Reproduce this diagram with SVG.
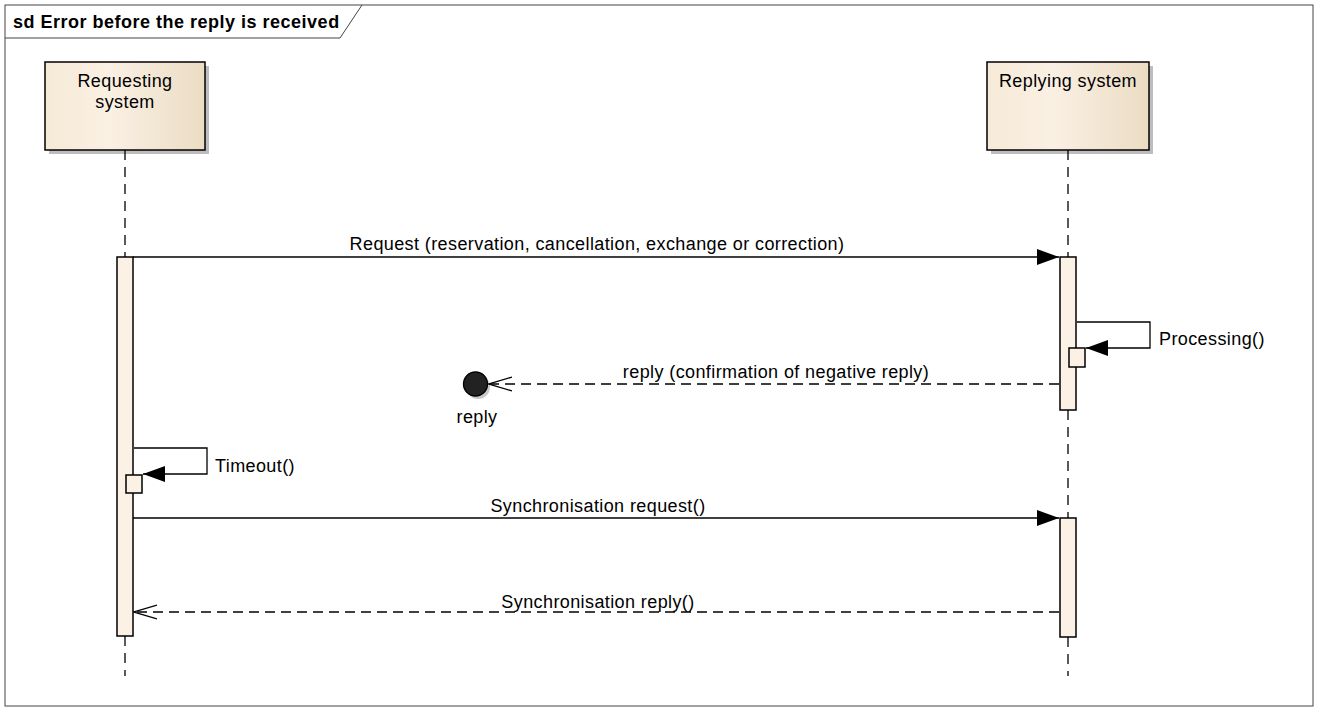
<svg xmlns="http://www.w3.org/2000/svg" width="1319" height="711" viewBox="0 0 1319 711">
<style>
text{font-family:"Liberation Sans",Arial,sans-serif;font-size:18px;letter-spacing:0.4px;fill:#000}
.ll{stroke:#000;stroke-width:1.3;stroke-dasharray:10,7;fill:none}
.act{fill:#fbf1e4;stroke:#000;stroke-width:1.5}
.msg{stroke:#000;stroke-width:1.3;fill:none}
.dmsg{stroke:#000;stroke-width:1.3;fill:none;stroke-dasharray:10,6}
.head{fill:url(#hg);stroke:#000;stroke-width:1.5}
.shadow{fill:#bdbdbd}
</style>
<defs>
<linearGradient id="hg" x1="0" y1="0" x2="1" y2="0">
<stop offset="0" stop-color="#f6ead7"/>
<stop offset="0.4" stop-color="#faf0e3"/>
<stop offset="1" stop-color="#ebdcc4"/>
</linearGradient>
<marker id="fill" markerWidth="22" markerHeight="16" refX="22" refY="8" orient="auto" markerUnits="userSpaceOnUse">
<path d="M0,0 L22,8 L0,16 Z" fill="#000"/>
</marker>
<marker id="open" markerWidth="24" markerHeight="18" refX="23" refY="8" orient="auto" markerUnits="userSpaceOnUse">
<path d="M0,1 L23,8 L0,15" fill="none" stroke="#000" stroke-width="1.3"/>
</marker>
</defs>
<rect width="1319" height="711" fill="#fff"/>
<g id="frame">
<rect x="5" y="5" width="1308" height="701" fill="none" stroke="#444" stroke-width="1"/>
<path d="M5,38 L340,38 L362,5" fill="none" stroke="#444" stroke-width="1"/>
<text x="13" y="28" font-weight="bold" style="letter-spacing:0.5px">sd Error before the reply is received</text>
</g>
<g id="requesting">
<rect class="shadow" x="49" y="66" width="160" height="88"/>
<rect class="head" x="45" y="62" width="160" height="88"/>
<text x="125" y="87" text-anchor="middle">Requesting</text>
<text x="125" y="108" text-anchor="middle">system</text>
<path class="ll" d="M125,150 V257 M125,636 V676"/>
<rect class="act" x="117" y="257" width="16" height="379"/>
</g>
<g id="replying">
<rect class="shadow" x="991" y="66" width="162" height="88"/>
<rect class="head" x="987" y="62" width="162" height="88"/>
<text x="1068" y="87" text-anchor="middle">Replying system</text>
<path class="ll" d="M1068,150 V257 M1068,410 V518 M1068,637 V676"/>
<rect class="act" x="1060" y="257" width="16" height="153"/>
<rect class="act" x="1060" y="518" width="16" height="119"/>
</g>
<g id="lost-reply">
<circle cx="478" cy="387" r="12" fill="#c8c8c8"/>
<circle cx="475.5" cy="384" r="12" fill="#222" stroke="#000" stroke-width="1.3"/>
<text x="477" y="423" text-anchor="middle">reply</text>
</g>
<g id="connectors">
<line class="msg" x1="133" y1="257" x2="1059" y2="257" marker-end="url(#fill)"/>
<text x="597" y="250" text-anchor="middle">Request (reservation, cancellation, exchange or correction)</text>
<path class="msg" d="M1077,322 H1150 V348 H1086" marker-end="url(#fill)"/>
<rect class="act" x="1069" y="348" width="16" height="19"/>
<text x="1159" y="345">Processing()</text>
<line class="dmsg" x1="1059" y1="384" x2="489" y2="384" marker-end="url(#open)"/>
<text x="776" y="378" text-anchor="middle">reply (confirmation of negative reply)</text>
<path class="msg" d="M134,448 H207 V474 H143" marker-end="url(#fill)"/>
<rect class="act" x="126" y="475" width="16" height="18"/>
<text x="215" y="472">Timeout()</text>
<line class="msg" x1="133" y1="518" x2="1059" y2="518" marker-end="url(#fill)"/>
<text x="598" y="512" text-anchor="middle">Synchronisation request()</text>
<line class="dmsg" x1="1059" y1="612" x2="134" y2="612" marker-end="url(#open)"/>
<text x="598" y="608" text-anchor="middle">Synchronisation reply()</text>
</g>
</svg>
